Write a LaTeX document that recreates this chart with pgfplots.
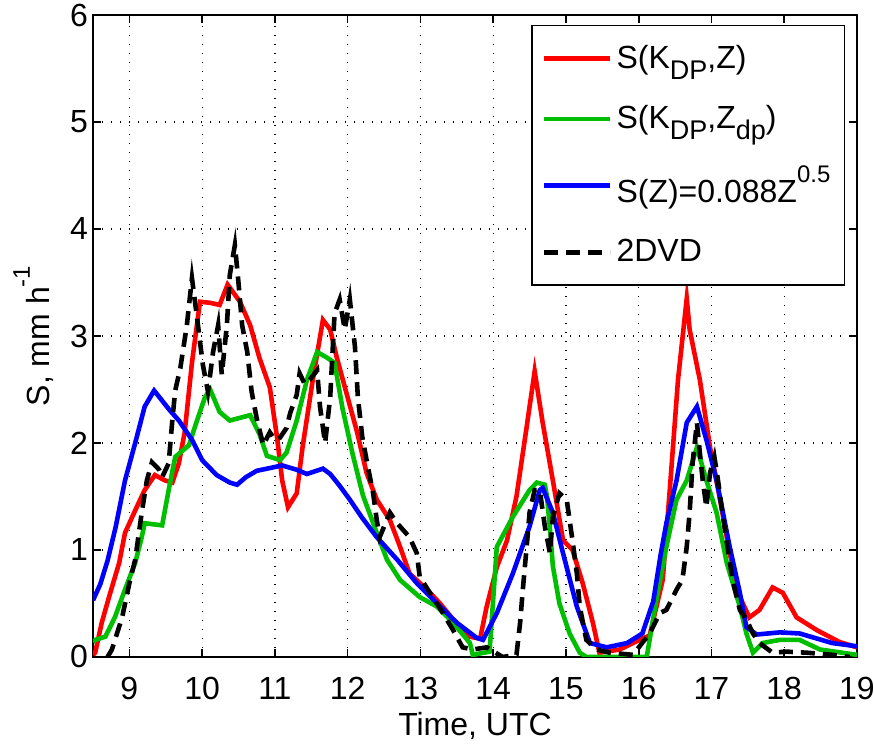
\documentclass[border=0pt]{standalone}
\usepackage{fontspec}
\setmainfont{Liberation Sans}
\usepackage{pgfplots}
\pgfplotsset{compat=1.18}
\usetikzlibrary{calc}
\definecolor{mygreen}{RGB}{0,190,0}
\newcommand{\sub}[1]{\raisebox{-0.32em}{\fontsize{13.5}{14}\selectfont #1}}
\newcommand{\sups}[1]{\raisebox{0.62em}{\fontsize{12}{13}\selectfont #1}}
\begin{document}
\begin{tikzpicture}
\begin{axis}[name=ax, scale only axis, width=382pt, height=321pt,
 xmin=8.5, xmax=19, ymin=0, ymax=6,
 xtick={9,10,...,19}, ytick={0,1,...,6},
 grid=major,
 major grid style={black, line width=0.6pt, dash pattern=on 0.6pt off 3.9pt},
 axis line style={line width=1pt},
 tick style={black, line width=0.8pt}, major tick length=4pt,
 tick pos=both, tick align=inside,
 font=\fontsize{16}{19}\selectfont,
 /pgf/number format/assume math mode=true,
 xticklabel style={yshift=-6.7pt},
 yticklabel style={xshift=1pt},
 xlabel={Time, UTC},
 xlabel style={at={(axis description cs:0.5,0)}, anchor=north, yshift=-24pt},
 ylabel={S, mm h\sups{-1}},
 ylabel style={at={(axis description cs:-0.042,0.5)}, anchor=south},
 legend style={at={(axis description cs:1,1)}, anchor=north east, xshift=-6pt, yshift=-5pt,
   draw=black, line width=0.6pt, row sep=13pt, inner xsep=5pt, inner ysep=8pt,
   font=\fontsize{16}{19}\selectfont},
 legend cell align=left,
 legend image code/.code={\draw[#1] (0pt,0pt) -- (33pt,0pt);},
]
\addplot[red, line width=2.3pt] coordinates {
(8.5,0.02) (8.53,0.04) (8.62,0.32) (8.72,0.56) (8.86,0.88) (8.94,1.16) (9.08,1.37) (9.21,1.56)
(9.35,1.70) (9.49,1.65) (9.59,1.63) (9.68,1.81) (9.76,2.1) (9.86,2.75) (9.97,3.32) (10.11,3.31)
(10.24,3.29) (10.35,3.48) (10.52,3.32) (10.66,3.10) (10.79,2.79) (10.93,2.52) (11.03,2.05)
(11.10,1.65) (11.18,1.40) (11.30,1.53) (11.38,1.96) (11.52,2.59) (11.66,3.15) (11.76,3.06)
(11.85,2.80) (11.99,2.45) (12.13,2.1) (12.26,1.72) (12.40,1.47) (12.58,1.28) (12.72,1.03)
(12.85,0.78) (13.09,0.63) (13.27,0.5) (13.45,0.35) (13.68,0.19) (13.82,0.17) (13.91,0.47)
(14.05,0.84) (14.19,1.09) (14.32,1.50) (14.46,2.15) (14.57,2.67) (14.68,2.19) (14.82,1.65)
(14.96,1.09) (15.09,1.0) (15.23,0.69) (15.37,0.32) (15.46,0.04) (15.74,0.07) (16.01,0.16)
(16.15,0.2) (16.33,0.72) (16.43,1.59) (16.54,2.59) (16.66,3.35) (16.70,3.06) (16.84,2.59)
(16.98,1.96) (17.11,1.50) (17.25,0.97) (17.39,0.56) (17.52,0.37) (17.66,0.44) (17.84,0.65)
(17.98,0.60) (18.17,0.37) (18.45,0.25) (18.76,0.14) (19,0.09)
};
\addlegendentry{S(K\sub{DP},Z)}
\addplot[mygreen, line width=2.3pt] coordinates {
(8.5,0.14) (8.53,0.16) (8.67,0.19) (8.80,0.37) (8.94,0.63) (9.08,0.88) (9.17,1.12) (9.21,1.25)
(9.45,1.23) (9.54,1.56) (9.63,1.87) (9.82,1.98) (9.90,2.15) (10.04,2.43) (10.11,2.50)
(10.24,2.29) (10.38,2.21) (10.66,2.26) (10.79,2.08) (10.89,1.88) (11.07,1.84) (11.16,1.91)
(11.30,2.21) (11.44,2.59) (11.58,2.85) (11.71,2.80) (11.82,2.75) (11.93,2.32) (12.07,1.89)
(12.21,1.51) (12.40,1.16) (12.54,0.91) (12.72,0.72) (12.99,0.56) (13.23,0.47) (13.45,0.32)
(13.68,0.13) (13.72,0.02) (13.95,0.05) (14.05,1.03) (14.27,1.31) (14.5,1.56) (14.6,1.63)
(14.71,1.61) (14.74,1.5) (14.78,1.2) (14.82,0.85) (14.91,0.50) (15.05,0.22) (15.19,0.04)
(15.28,0.0) (16.11,0.0) (16.25,0.56) (16.38,1.03) (16.52,1.47) (16.66,1.65) (16.80,1.96)
(16.93,1.65) (17.07,1.35) (17.21,0.88) (17.39,0.47) (17.48,0.22) (17.57,0.04) (17.70,0.13)
(17.94,0.16) (18.21,0.16) (18.49,0.07) (19,0.02)
};
\addlegendentry{S(K\sub{DP},Z\sub{dp})}
\addplot[blue, line width=2.3pt] coordinates {
(8.5,0.53) (8.6,0.68) (8.7,0.9) (8.81,1.21) (8.94,1.65) (9.08,2.0) (9.21,2.34) (9.34,2.49)
(9.55,2.31) (9.68,2.21) (9.86,2.03) (10.0,1.84) (10.2,1.70) (10.38,1.63) (10.48,1.61)
(10.6,1.68) (10.75,1.74) (11.1,1.79) (11.3,1.75) (11.44,1.71) (11.66,1.76) (11.76,1.71)
(11.89,1.60) (12.03,1.47) (12.2,1.30) (12.40,1.12) (12.68,0.91) (12.95,0.69) (13.23,0.50)
(13.5,0.32) (13.77,0.18) (13.86,0.16) (14.05,0.41) (14.27,0.78) (14.5,1.22) (14.64,1.56)
(14.68,1.58) (14.82,1.35) (14.96,0.97) (15.15,0.47) (15.33,0.13) (15.56,0.09) (15.84,0.13)
(16.05,0.22) (16.2,0.52) (16.3,0.95) (16.38,1.25) (16.52,1.65) (16.66,2.19) (16.8,2.34)
(16.93,2.03) (17.07,1.65) (17.25,1.03) (17.39,0.6) (17.48,0.28) (17.62,0.21) (17.94,0.23)
(18.21,0.22) (18.66,0.13) (19,0.10)
};
\addlegendentry{S(Z)=0.088Z\sups{0.5}}
\addplot[black, line width=2.3pt, dash pattern=on 7pt off 4pt] coordinates {
(8.70,0.0) (8.76,0.07) (8.90,0.37) (9.0,0.69) (9.08,0.91) (9.17,1.35) (9.24,1.65) (9.31,1.82)
(9.41,1.75) (9.45,1.68) (9.54,1.81) (9.59,2.21) (9.63,2.49) (9.70,2.70) (9.79,3.10) (9.86,3.54)
(9.93,3.17) (10.01,2.73) (10.08,2.48) (10.15,2.85) (10.22,3.10) (10.27,2.64) (10.34,3.10)
(10.38,3.57) (10.45,3.85) (10.49,3.57) (10.55,3.10) (10.62,2.85) (10.68,2.48) (10.75,2.23)
(10.84,1.98) (10.93,2.10) (11.0,2.03) (11.07,2.05) (11.16,2.14) (11.21,2.28) (11.30,2.45)
(11.34,2.65) (11.41,2.55) (11.48,2.59) (11.58,2.68) (11.62,2.34) (11.69,2.0) (11.76,2.43)
(11.82,3.21) (11.89,3.34) (11.96,3.06) (12.03,3.34) (12.10,2.90) (12.14,2.43) (12.20,2.06)
(12.26,1.84) (12.35,1.53) (12.40,1.28) (12.44,1.12) (12.58,1.35) (12.68,1.25) (12.85,1.12)
(12.95,0.97) (12.99,0.75) (13.13,0.60) (13.31,0.41) (13.45,0.25) (13.58,0.09) (13.72,0.07)
(13.91,0.09) (14.13,0.0) (14.32,0.02) (14.37,0.32) (14.41,0.65) (14.46,1.03) (14.50,1.35)
(14.57,1.56) (14.64,1.56) (14.71,1.22) (14.78,0.97) (14.82,1.31) (14.91,1.53) (15.01,1.47)
(15.09,1.09) (15.15,0.78) (15.19,0.47) (15.28,0.16) (15.42,0.07) (15.60,0.04) (15.92,0.02)
(16.15,0.22) (16.29,0.41) (16.38,0.44) (16.52,0.63) (16.60,0.72) (16.66,1.03) (16.70,1.35)
(16.74,1.81) (16.80,2.19) (16.84,1.91) (16.88,1.65) (16.93,1.40) (16.98,1.72) (17.04,1.87)
(17.09,1.65) (17.15,1.35) (17.22,1.03) (17.29,0.72) (17.39,0.44) (17.48,0.35) (17.57,0.22)
(17.66,0.13) (17.84,0.04) (18.03,0.05) (18.31,0.04) (18.66,0.02) (18.9,0.0)
};
\addlegendentry{2DVD}
\end{axis}
\pgfresetboundingbox
\path ($(ax.south west)+(-46.5pt,-44.5pt)$) rectangle ($(ax.north east)+(8.5pt,7.5pt)$);
\end{tikzpicture}
\end{document}
